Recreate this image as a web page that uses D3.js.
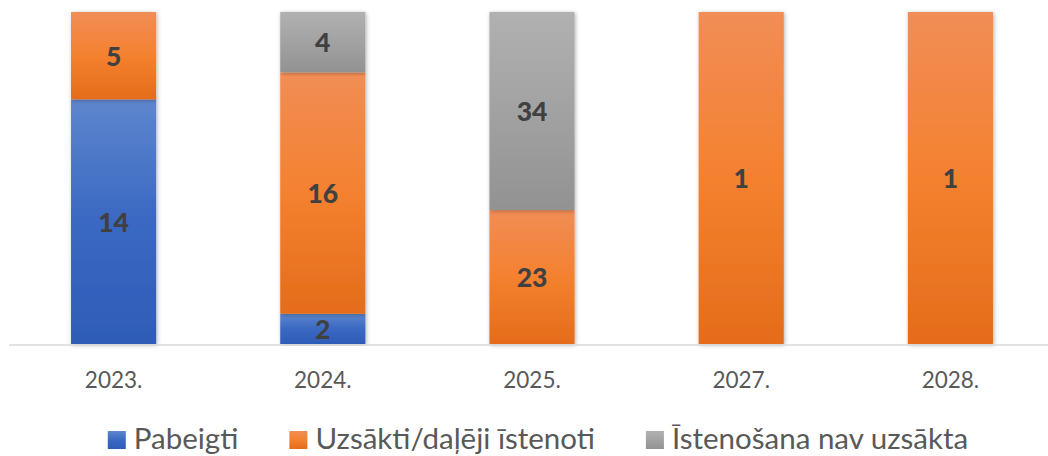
<!DOCTYPE html>
<html lang="lv">
<head>
  <meta charset="utf-8">
  <title>Stacked columns</title>
  <script src="https://d3js.org/d3.v7.min.js"></script>
  <style>
    body { margin: 0; background: #fff; }
    svg { display: block; font-family: Lato, "Open Sans", sans-serif; }
    .tick-label { fill: #595959; font-size: 22.5px; }
    .val-label { fill: #404040; font-size: 26.5px; font-weight: 900; }
    .legend-label { fill: #595959; font-size: 29.5px; }
  </style>
</head>
<body>
<script>
  // data
  const categories = ["2023.", "2024.", "2025.", "2027.", "2028."];
  const seriesNames = ["Pabeigti", "Uzsākti/daļēji īstenoti", "Īstenošana nav uzsākta"];
  const pabeigti = [14, 2, 0, 0, 0];
  const uzsakti = [5, 16, 23, 1, 1];
  const navUzsakta = [0, 4, 34, 0, 0];

  const gradStops = [
    ["#5e86cd", "#3a68c2", "#2e5cb7"],
    ["#f18d56", "#f4812f", "#e46c1a"],
    ["#b1b1b1", "#a2a2a2", "#929292"]
  ];

  const width = 1048, height = 456;
  const svg = d3.select("body").append("svg")
    .attr("width", width)
    .attr("height", height);

  const defs = svg.append("defs");
  gradStops.forEach((stops, i) => {
    const g = defs.append("linearGradient")
      .attr("id", "grad" + i)
      .attr("x1", 0).attr("y1", 0).attr("x2", 0).attr("y2", 1);
    stops.forEach((c, j) => {
      g.append("stop").attr("offset", (j * 50) + "%").attr("stop-color", c);
    });
  });
  defs.append("filter")
    .attr("id", "shadow")
    .attr("x", "-20%").attr("y", "-5%").attr("width", "140%").attr("height", "110%")
    .append("feDropShadow")
    .attr("dx", 1).attr("dy", 1).attr("stdDeviation", 2)
    .attr("flood-color", "#000").attr("flood-opacity", 0.3);

  // build rows and stack as percent
  const rows = categories.map((c, i) => ({
    cat: c, s0: pabeigti[i], s1: uzsakti[i], s2: navUzsakta[i]
  }));
  const stack = d3.stack()
    .keys(["s0", "s1", "s2"])
    .offset(d3.stackOffsetExpand);
  const stacked = stack(rows);

  const x = d3.scaleBand()
    .domain(categories)
    .range([9, 1055])
    .padding(0);
  const barW = x.bandwidth() * 0.407;

  const y = d3.scaleLinear()
    .domain([0, 1])
    .range([344, 12]);

  const layers = svg.append("g").selectAll("g")
    .data(stacked)
    .join("g")
    .attr("fill", (d, i) => `url(#grad${i})`);

  layers.selectAll("rect")
    .data(d => d.filter(p => p[1] - p[0] > 0))
    .join("rect")
    .attr("x", d => x(d.data.cat) + x.bandwidth() / 2 - barW / 2)
    .attr("y", d => y(d[1]))
    .attr("width", barW)
    .attr("height", d => y(d[0]) - y(d[1]))
    .attr("filter", "url(#shadow)");

  // axis line
  svg.append("line")
    .attr("x1", 9).attr("x2", width)
    .attr("y1", 345).attr("y2", 345)
    .attr("stroke", "#d9d9d9")
    .attr("stroke-width", 1.5);

  // value labels
  stacked.forEach((layer, i) => {
    const key = layer.key;
    svg.append("g").selectAll("text")
      .data(layer.filter(p => p[1] - p[0] > 0))
      .join("text")
      .attr("class", "val-label")
      .attr("x", d => x(d.data.cat) + x.bandwidth() / 2)
      .attr("y", d => (y(d[0]) + y(d[1])) / 2)
      .attr("text-anchor", "middle")
      .attr("dominant-baseline", "central")
      .text(d => d.data[key]);
  });

  // category labels
  svg.append("g").selectAll("text")
    .data(categories)
    .join("text")
    .attr("class", "tick-label")
    .attr("x", d => x(d) + x.bandwidth() / 2)
    .attr("y", 388)
    .attr("text-anchor", "middle")
    .text(d => d);

  // legend
  const legend = svg.append("g");
  let lx = 0;
  seriesNames.forEach((name, i) => {
    const item = legend.append("g").attr("transform", `translate(${lx},0)`);
    item.append("rect")
      .attr("x", 0).attr("y", 431)
      .attr("width", 18).attr("height", 18)
      .attr("fill", `url(#grad${i})`);
    const t = item.append("text")
      .attr("class", "legend-label")
      .attr("x", 26).attr("y", 449)
      .text(name);
    lx += 26 + t.node().getComputedTextLength() + 51;
  });
  const legendW = lx - 51;
  legend.attr("transform", `translate(${538 - legendW / 2},0)`);
</script>
</body>
</html>
